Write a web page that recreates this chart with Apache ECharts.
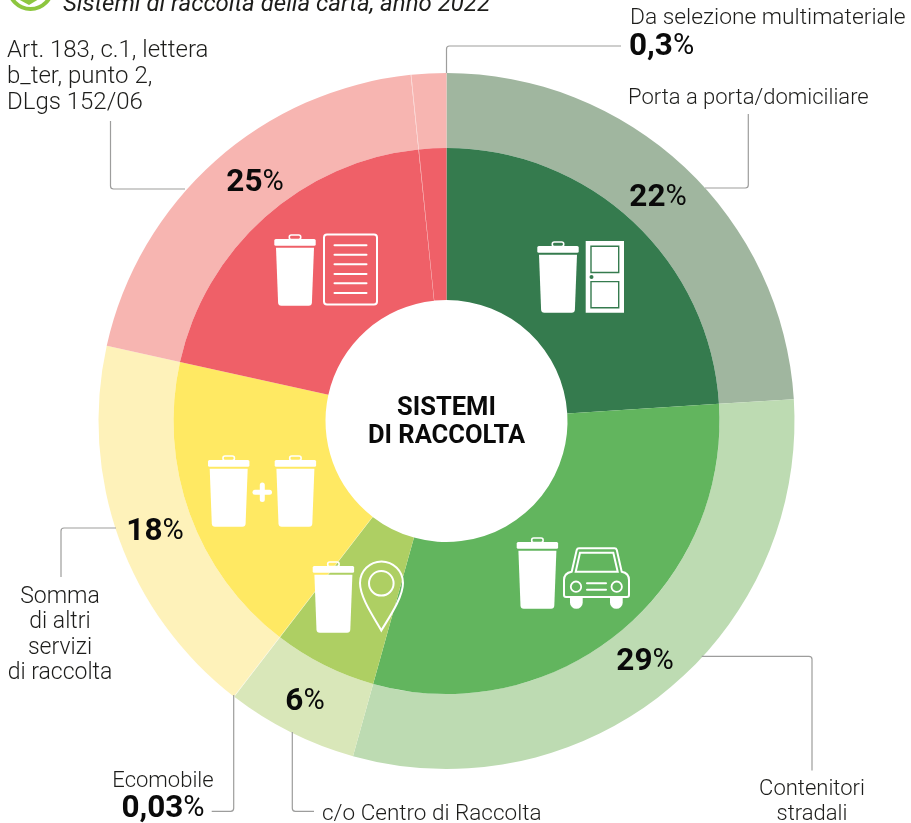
<!DOCTYPE html>
<html><head><meta charset="utf-8">
<style>html,body{margin:0;padding:0;background:#fff}#c{width:911px;height:823px}</style>
<script src="https://cdn.jsdelivr.net/npm/echarts@6/dist/echarts.min.js"></script>
</head><body><div id="c"></div>
<script>
// Slice names and their shares of the circle (arc sizes)
const sliceNames = ['Porta a porta/domiciliare','Contenitori stradali','c/o Centro di Raccolta','Ecomobile','Somma di altri servizi di raccolta','Art. 183, c.1, lettera b_ter, punto 2, DLgs 152/06','Divisorio','Art. 183 (seconda parte)'];
const sliceShares = [24.0, 30.33, 6.11, 0.03, 18.0, 19.89, 0.03, 1.61];
const innerColors = ['#357B4E','#62B55E','#AECF63','#E4EDB0','#FFE963','#EF6068','#F59A9C','#EF6068'];
const outerColors = ['#A0B69F','#BDDBB2','#D9E7B9','#F6F6E0','#FEF2BA','#F7B5B1','#FBD3D0','#F7B5B1'];
const percentLabels = ['22','29','6','18','25'];
const extraLabels = ['0,3','0,03'];
const centerLines = 'SISTEMI\nDI RACCOLTA';
const subtitle = 'Sistemi di raccolta della carta, anno 2022';

const FONT = 'Roboto';
const INK = '#1d1d1b';
const BLACK = '#0a0a0a';
const LEAD = '#9d9d9c';
const W = '#fff';
const TOP = 20;

let shapeCount = 0;
function pathEl(d,style){
  const name='rsPath'+(shapeCount++);
  echarts.graphic.registerShape(name,echarts.graphic.extendPath(d,{}));
  return {type:name,silent:true,style};
}
function txt(s,x,y,size,weight,align,lh,extra){
  return {type:'text',x,y,silent:true,style:Object.assign({text:s,fontFamily:FONT,fontSize:size,fontWeight:weight,fill:INK,align:align||'left',verticalAlign:'middle',lineHeight:lh||undefined},extra||{})};
}
function pct(v,x,y,align){
  return {type:'text',x,y,silent:true,style:{text:'{a|'+v+'}{b|%}',align:align||'center',verticalAlign:'middle',
    rich:{a:{fontFamily:FONT,fontSize:31.5,fontWeight:700,fill:BLACK,color:BLACK},b:{fontFamily:FONT,fontSize:29,fontWeight:400,fill:BLACK,color:BLACK}}}};
}
function lead(d){return pathEl(d,{fill:'none',stroke:LEAD,lineWidth:1.2});}
function bin(x,y){
  return {type:'group',x,y,silent:true,children:[
    {type:'rect',shape:{x:0,y:0,width:41.4,height:6.7,r:1.5},style:{fill:W}},
    {type:'rect',shape:{x:15,y:-4,width:11.4,height:4.5,r:2},style:{fill:'none',stroke:W,lineWidth:1.6}},
    pathEl('M1.7 8.7 L39.7 8.7 L37.6 63.7 Q37.4 66.7 34.4 66.7 L7 66.7 Q4 66.7 3.8 63.7 Z',{fill:W})
  ]};
}
function line(x1,y1,x2,y2,c,w){return {type:'line',silent:true,shape:{x1,y1,x2,y2},style:{stroke:c||W,lineWidth:w||2,lineCap:'round'}};}
function wp(d,w){return pathEl(d,{fill:'none',stroke:W,lineWidth:w||2});}

const icons = [
  // door
  bin(537.3,246),
  {type:'rect',silent:true,shape:{x:585.7,y:241,width:38.3,height:71.7},style:{fill:W}},
  {type:'rect',silent:true,shape:{x:591,y:246.3,width:27.7,height:26.2},style:{fill:W,stroke:'#357B4E',lineWidth:1.4}},
  {type:'rect',silent:true,shape:{x:591,y:281.6,width:27.7,height:26.2},style:{fill:W,stroke:'#357B4E',lineWidth:1.4}},
  {type:'circle',silent:true,shape:{cx:591.5,cy:277,r:2},style:{fill:'#357B4E'}},
  // document
  bin(274.3,239),
  {type:'rect',silent:true,shape:{x:324,y:234.5,width:53,height:70,r:3},style:{fill:'none',stroke:W,lineWidth:2}},
  line(334.5,245.3,366.5,245.3),line(334.5,254.7,366.5,254.7),line(334.5,264.3,366.5,264.3),
  line(334.5,274,366.5,274),line(334.5,283.3,366.5,283.3),line(334.5,293,366.5,293),
  // bins plus
  bin(208,460),bin(274.7,460),
  line(255,492.3,269.5,492.3,W,5),line(262.3,485,262.3,499.5,W,5),
  // pin
  bin(312.7,566),
  wp('M381.3 630.5 C375 619 360 598 360 583 A21.5 21.5 0 1 1 403 583 C403 598 388 619 381.3 630.5 Z'),
  {type:'circle',silent:true,shape:{cx:381.3,cy:583.3,r:12.3},style:{fill:'none',stroke:W,lineWidth:2}},
  // car
  bin(516.7,542),
  wp('M571.7 571.7 L576.7 550 Q577.2 548.3 579 548.3 L614.5 548.3 Q616.3 548.3 616.8 550 L621.7 571.7 Q629 573 629 580 L629 595 Q629 597 627 597 L566 597 Q564 597 564 595 L564 580 Q564 573 571.7 571.7 Z'),
  wp('M580 552.7 L613.3 552.7 L617.7 571.7 L575.7 571.7 Z'),
  {type:'circle',silent:true,shape:{cx:576,cy:586.7,r:5.2},style:{fill:'none',stroke:W,lineWidth:1.8}},
  {type:'circle',silent:true,shape:{cx:616.7,cy:586.7,r:5.2},style:{fill:'none',stroke:W,lineWidth:1.8}},
  line(587,583.3,606,583.3),line(587,589.7,606,589.7),
  pathEl('M570 597 L582.7 597 L582.7 602.5 A6.2 6.2 0 0 1 570 602.5 Z',{fill:W}),
  pathEl('M610 597 L622.7 597 L622.7 602.5 A6.2 6.2 0 0 1 610 602.5 Z',{fill:W})
];

const leaders = [
  lead('M110.5 121 L110.5 186 Q110.5 189 113.5 189 L185 189'),
  lead('M446.5 73 L446.5 49 Q446.5 46 449.5 46 L621 46'),
  lead('M748.3 114 L748.3 185 Q748.3 188 745.3 188 L705 188'),
  lead('M61 577 L61 531 Q61 528 64 528 L116 528'),
  lead('M233.7 695 L233.7 808.3 Q233.7 811.3 230.7 811.3 L211.7 811.3'),
  lead('M292.3 732 L292.3 808.3 Q292.3 811.3 295.3 811.3 L314 811.3'),
  lead('M701.7 656.3 L809 656.3 Q812 656.3 812 659.3 L812 770.6')
];

const texts = [
  txt(subtitle,63,5,24,400,'left',null,{fontStyle:'italic'}),
  txt('Art. 183, c.1, lettera\nb_ter, punto 2,\nDLgs 152/06',7,77,24,300,'left',26),
  txt('Da selezione multimateriale',630,18,22.8,300),
  pct(extraLabels[0],629,47,'left'),
  txt('Porta a porta/domiciliare',628,98,22,300),
  txt('Somma\ndi altri\nservizi\ndi raccolta',60,635,23,300,'center',25.5),
  txt('Ecomobile',163,781,22,300,'center'),
  pct(extraLabels[1],163,809),
  txt('c/o Centro di Raccolta',322,814,22.5,300),
  txt('Contenitori\nstradali',812,802,22,300,'center',25),
  txt(centerLines,446.5,423,25.5,700,'center',28,{fill:BLACK}),
  pct(percentLabels[0],658,198),
  pct(percentLabels[1],645,662),
  pct(percentLabels[2],305,702),
  pct(percentLabels[3],155,532),
  pct(percentLabels[4],255,183)
];

const badge = [
  {type:'circle',silent:true,shape:{cx:30.5,cy:-12.7,r:21.7},style:{fill:'none',stroke:'#8DC63F',lineWidth:4}},
  pathEl('M18 -1 L39 -1 L29 5 Z',{fill:'#8DC63F'})
];

function setZ(e){e.z=TOP;e.zlevel=0;if(e.children)e.children.forEach(setZ);return e;}
function pieData(colors){return sliceNames.map((n,i)=>({name:n,value:sliceShares[i],itemStyle:{color:colors[i]}}));}
const pieBase = {type:'pie',center:[446.5,421],startAngle:90,clockwise:true,silent:true,animation:false,label:{show:false},labelLine:{show:false},minAngle:0,avoidLabelOverlap:false,itemStyle:{borderWidth:0}};

const chart = echarts.init(document.getElementById('c'),null,{renderer:'canvas'});
chart.setOption({
  animation:false,
  backgroundColor:'#fff',
  series:[
    Object.assign({},pieBase,{name:'esterno',radius:[273,348],data:pieData(outerColors)}),
    Object.assign({},pieBase,{name:'interno',radius:[121,273],data:pieData(innerColors)})
  ],
  graphic:{elements:[].concat(badge,leaders,icons,texts).map(setZ)}
});
</script></body></html>
